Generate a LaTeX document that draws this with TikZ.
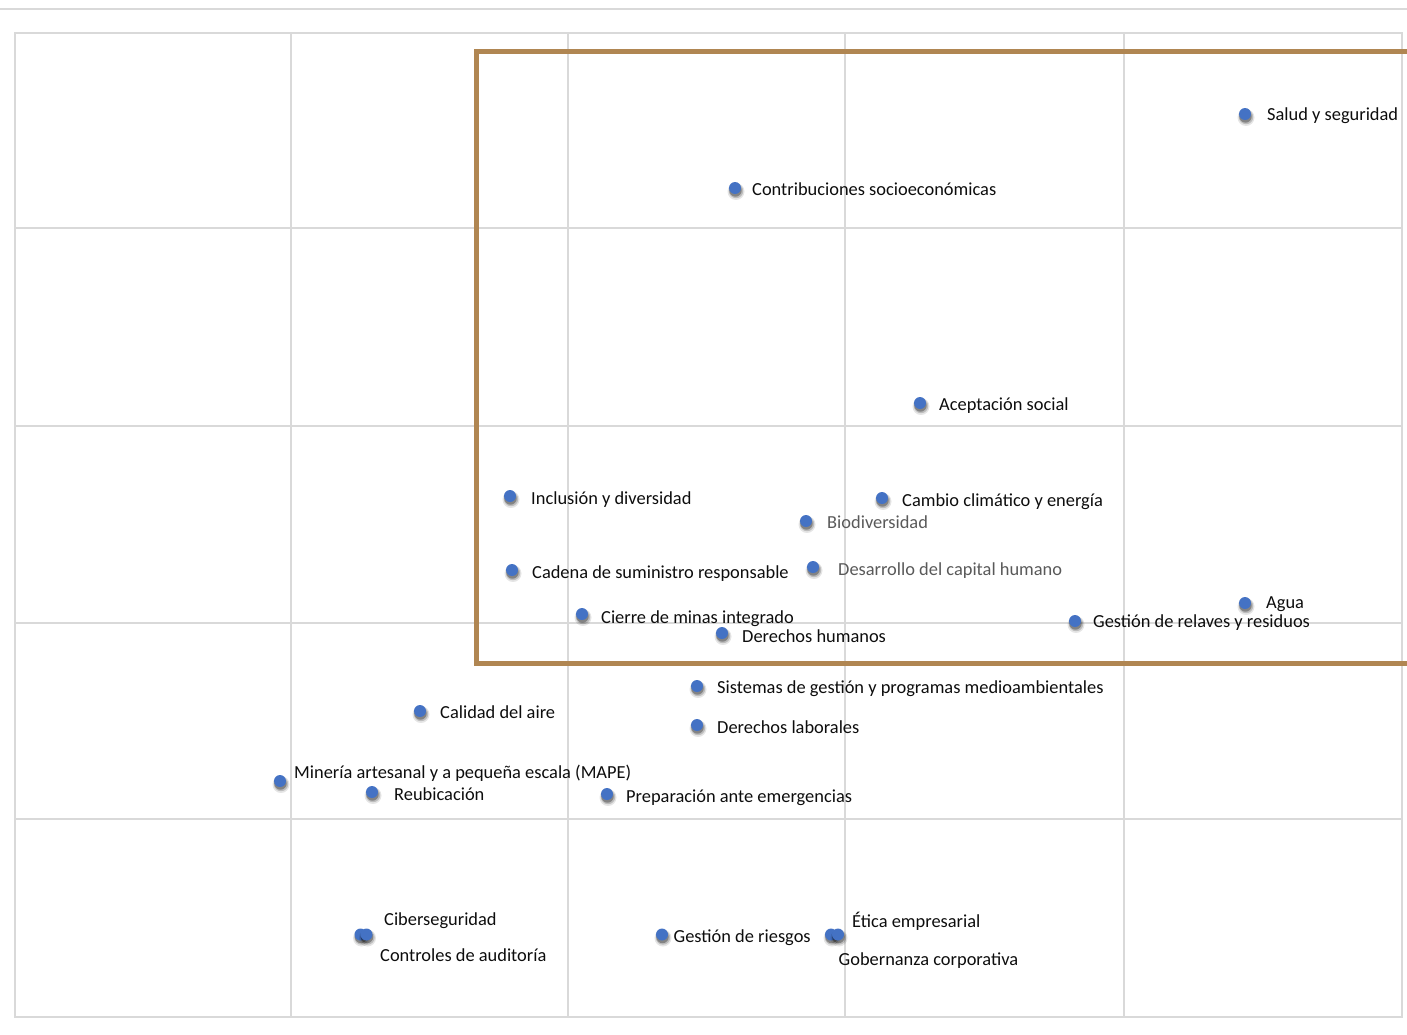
\documentclass[tikz,border=0pt]{standalone}
\usepackage{fontspec}
\setmainfont{Carlito}
\definecolor{dotblue}{RGB}{68,114,196}
\definecolor{gridc}{RGB}{217,217,217}
\definecolor{framebrown}{RGB}{176,134,82}
\definecolor{labgray}{RGB}{89,89,89}
\newcommand{\mdot}[3]{%
  \fill[black,opacity=.10] (#2,#3) ++(1,3.5) circle (8.5);
  \fill[black,opacity=.18] (#2,#3) ++(1,3) circle (7.2);
  \fill[black,opacity=.30] (#2,#3) ++(0.5,2.5) circle (6.2);
  \node[mdotstyle] (#1) at (#2,#3) {};}
\begin{document}
\begin{tikzpicture}[x=1pt,y=-1pt,
  mdotstyle/.style={circle,fill=dotblue,inner sep=0pt,minimum size=12pt},
  lab/.style={anchor=base west,inner sep=0pt,font=\fontsize{18.4}{21}\selectfont,text=black!95},
  glab/.style={lab,text=labgray}]
\useasboundingbox (0,0) rectangle (1407,1034);
% top rule
\draw[gridc,line width=1.5pt] (0,9) -- (1407,9);
% grid
\draw[gridc,line width=1.5pt] (15,33) rectangle (1402,1017);
\foreach \gx in {291,568,845,1124} \draw[gridc,line width=1.5pt] (\gx,33) -- (\gx,1017);
\foreach \gy in {228,426,623,819} \draw[gridc,line width=1.5pt] (15,\gy) -- (1402,\gy);
% frame
\draw[framebrown,line width=5pt] (1407,51) -- (476,51) -- (476,663.8) -- (1407,663.8);
% dots
\mdot{salud}{1245}{114}
\mdot{contrib}{735}{188}
\mdot{acept}{920}{403}
\mdot{inclu}{510}{496}
\mdot{cambio}{882}{498}
\mdot{biod}{806}{521}
\mdot{cadena}{512}{570}
\mdot{desarr}{813}{567}
\mdot{agua}{1245}{603}
\mdot{relaves}{1075}{621}
\mdot{cierre}{582}{614}
\mdot{dhum}{722}{633}
\mdot{sistemas}{697}{686}
\mdot{aire}{420}{711}
\mdot{dlab}{697}{725}
\mdot{mape}{280}{781}
\mdot{reub}{372}{792}
\mdot{prep}{607}{794}
\mdot{ciber}{360.5}{934.5}
\mdot{audit}{366.5}{934.5}
\mdot{riesgos}{662}{934.5}
\mdot{gob}{831}{934.5}
\mdot{etica}{838}{934.5}
% labels
\node[lab] (tsalud) at (1267,120.5) {Salud y seguridad};
\node[lab] (tcontrib) at (752,195) {Contribuciones socioeconómicas};
\node[lab] (tacept) at (939,410) {Aceptación social};
\node[lab] (tinclu) at (531,504) {Inclusión y diversidad};
\node[lab] (tcambio) at (902,506) {Cambio climático y energía};
\node[glab] (tbiod) at (827,528.5) {Biodiversidad};
\node[lab] (tcadena) at (532,578) {Cadena de suministro responsable};
\node[glab] (tdesarr) at (838,575) {Desarrollo del capital humano};
\node[lab] (tagua) at (1266,608.5) {Agua};
\node[lab] (trelaves) at (1093,627.5) {Gestión de relaves y residuos};
\node[lab] (tcierre) at (601,623) {Cierre de minas integrado};
\node[lab] (tdhum) at (742,642) {Derechos humanos};
\node[lab] (tsistemas) at (717,693) {Sistemas de gestión y programas medioambientales};
\node[lab] (taire) at (440,718) {Calidad del aire};
\node[lab] (tdlab) at (717,733) {Derechos laborales};
\node[lab] (tmape) at (294,778) {Minería artesanal y a pequeña escala (MAPE)};
\node[lab] (treub) at (394,800) {Reubicación};
\node[lab] (tprep) at (626,802) {Preparación ante emergencias};
\node[lab] (tciber) at (384,925) {Ciberseguridad};
\node[lab] (taudit) at (380,961) {Controles de auditoría};
\node[lab] (triesgos) at (673.5,942.5) {Gestión de riesgos};
\node[lab] (tetica) at (852,927.5) {Ética empresarial};
\node[lab] (tgob) at (838.5,965) {Gobernanza corporativa};
\end{tikzpicture}
\end{document}
